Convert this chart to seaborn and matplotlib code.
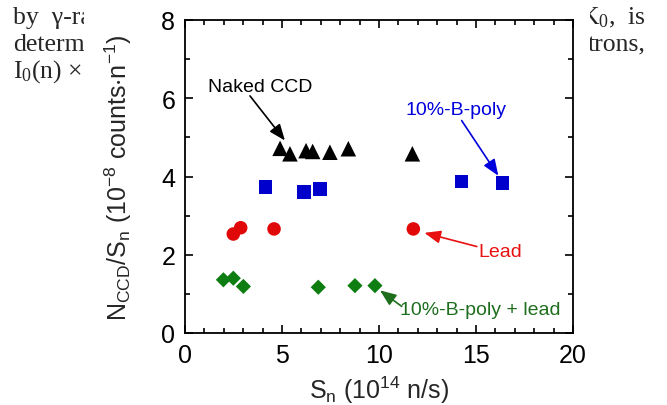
import numpy as np
import pandas as pd
import matplotlib
matplotlib.use("Agg")
import matplotlib.pyplot as plt
from matplotlib.patches import Rectangle
from matplotlib.ticker import MultipleLocator
import seaborn as sns

# ---- data ----
naked_x = [4.90, 5.41, 6.24, 6.58, 7.47, 8.42, 11.72]
naked_y = [4.72, 4.58, 4.66, 4.64, 4.62, 4.71, 4.58]

bpoly_x = [4.14, 6.13, 6.96, 14.26, 16.37]
bpoly_y = [3.73, 3.61, 3.68, 3.87, 3.84]

lead_x = [2.49, 2.87, 4.59, 11.77]
lead_y = [2.53, 2.69, 2.66, 2.66]

bpl_x = [1.98, 2.49, 3.01, 6.87, 8.76, 9.79]
bpl_y = [1.36, 1.40, 1.19, 1.17, 1.21, 1.21]

series_names = ["Naked CCD", "10%-B-poly", "Lead", "10%-B-poly + lead"]
colors = {"Naked CCD": "#000000", "10%-B-poly": "#0000CC",
          "Lead": "#E00808", "10%-B-poly + lead": "#0E7E12"}
text_colors = {"Naked CCD": "#000000", "10%-B-poly": "#0000DD",
               "Lead": "#E81010", "10%-B-poly + lead": "#1E6E1E"}
markers = {"Naked CCD": "^", "10%-B-poly": "s",
           "Lead": "o", "10%-B-poly + lead": "D"}
sizes = {"Naked CCD": 125, "10%-B-poly": 95,
         "Lead": 95, "10%-B-poly + lead": 60}

# annotation label positions and arrow (start -> end) in data units
label_pos = {"Naked CCD": (3.86, 6.3), "10%-B-poly": (13.95, 5.71),
             "Lead": (16.24, 2.09), "10%-B-poly + lead": (15.24, 0.60)}
arrow_from = {"Naked CCD": (3.35, 6.06), "10%-B-poly": (14.26, 5.43),
              "Lead": (15.04, 2.21), "10%-B-poly + lead": (11.17, 0.68)}
arrow_to = {"Naked CCD": (5.15, 4.92), "10%-B-poly": (16.15, 4.02),
            "Lead": (12.34, 2.56), "10%-B-poly + lead": (10.05, 1.09)}

df = pd.concat([
    pd.DataFrame({"Sn": naked_x, "ratio": naked_y, "set": "Naked CCD"}),
    pd.DataFrame({"Sn": bpoly_x, "ratio": bpoly_y, "set": "10%-B-poly"}),
    pd.DataFrame({"Sn": lead_x, "ratio": lead_y, "set": "Lead"}),
    pd.DataFrame({"Sn": bpl_x, "ratio": bpl_y, "set": "10%-B-poly + lead"}),
], ignore_index=True)

sns.set_theme(style="ticks")
plt.rcParams["font.family"] = ["Liberation Sans", "DejaVu Sans"]
plt.rcParams["mathtext.default"] = "regular"

fig = plt.figure(figsize=(6.67, 4.06), dpi=100)
fig.patch.set_facecolor("white")

# background document text (partially covered by the figure panel)
serif = ["Liberation Serif", "DejaVu Serif"]
bg_fs = 18.5
fig.text(13 / 667, 1 - 24 / 406, "by  \u03b3-ra", family=serif, fontsize=bg_fs,
         va="baseline", ha="left", zorder=-3)
fig.text(13 / 667, 1 - 51 / 406, "determ", family=serif, fontsize=bg_fs,
         va="baseline", ha="left", zorder=-3)
fig.text(13 / 667, 1 - 78 / 406, r"I$_{0}$(n) $\times$", family=serif, fontsize=bg_fs,
         va="baseline", ha="left", zorder=-3)
fig.text(646 / 667, 1 - 24 / 406, r"K$_{0}$,  is", family=serif, fontsize=bg_fs,
         va="baseline", ha="right", zorder=-3)
fig.text(646 / 667, 1 - 51 / 406, "trons,", family=serif, fontsize=bg_fs,
         va="baseline", ha="right", zorder=-3)
fig.patches.append(Rectangle((84 / 667, 0), (590 - 84) / 667, 1,
                             transform=fig.transFigure, facecolor="white",
                             edgecolor="none", zorder=-2))

ax = fig.add_axes([185 / 667, 1 - 334 / 406, 388 / 667, 313 / 406])
ax.set_zorder(1)

for name in series_names:
    sub = df[df["set"] == name]
    sns.scatterplot(data=sub, x="Sn", y="ratio", color=colors[name],
                    marker=markers[name], s=sizes[name], edgecolor="none",
                    linewidth=0, ax=ax, legend=False, zorder=3)

ax.set_xlim(0, 20)
ax.set_ylim(0, 8)
ax.xaxis.set_major_locator(MultipleLocator(5))
ax.xaxis.set_minor_locator(MultipleLocator(1))
ax.yaxis.set_major_locator(MultipleLocator(2))
ax.yaxis.set_minor_locator(MultipleLocator(1))
ax.tick_params(which="both", direction="in", top=True, right=True,
               width=1.2, colors="black")
ax.tick_params(which="major", length=6, labelsize=18, pad=7)
ax.tick_params(which="minor", length=3.5)
for sp in ax.spines.values():
    sp.set_linewidth(1.3)
    sp.set_color("black")

ax.set_xlabel(r"S$_{n}$ (10$^{14}$ n/s)", fontsize=18, labelpad=5)
ax.set_ylabel(r"N$_{CCD}$/S$_{n}$ (10$^{-8}$ counts$\cdot$n$^{-1}$)",
              fontsize=18, labelpad=20)

# annotations: label text + separate arrow
for name in series_names:
    ax.text(*label_pos[name], name, fontsize=14, color=text_colors[name],
            ha="center", va="center", zorder=4)
    ax.annotate("", xy=arrow_to[name], xytext=arrow_from[name],
                arrowprops=dict(arrowstyle="-|>,head_length=0.7,head_width=0.28",
                                color=text_colors[name], lw=1.2,
                                shrinkA=0, shrinkB=0, mutation_scale=14),
                zorder=4)

fig.savefig("out.png", dpi=100, facecolor="white")
